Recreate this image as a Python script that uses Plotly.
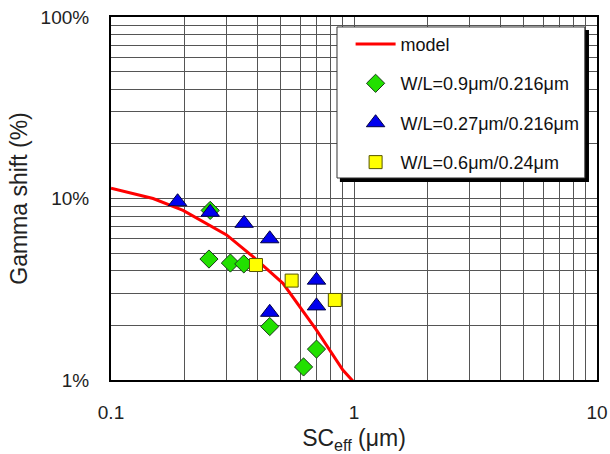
import plotly.graph_objects as go

# model curve
model_x = [0.1, 0.149, 0.198, 0.299, 0.384, 0.510, 0.700, 0.900, 1.053]
model_y = [11.4, 10.0, 8.6, 6.3, 4.78, 3.41, 1.89, 1.135, 0.90]

# W/L=0.9um/0.216um (diamonds)
d_x = [0.256, 0.253, 0.310, 0.352, 0.450, 0.701, 0.620]
d_y = [8.6, 4.64, 4.41, 4.36, 1.97, 1.48, 1.18]

# W/L=0.27um/0.216um (triangles)
t_x = [0.188, 0.256, 0.353, 0.450, 0.450, 0.701, 0.701]
t_y = [9.6, 8.4, 7.3, 6.0, 2.36, 3.55, 2.56]

# W/L=0.6um/0.24um (squares)
s_x = [0.395, 0.554, 0.834]
s_y = [4.30, 3.53, 2.76]

x_tick_vals = [0.1, 1, 10]
x_tick_text = ["0.1", "1", "10"]
y_tick_vals = [1, 10, 100]
y_tick_text = ["1%", "10%", "100%"]

FONT = "Arial, Liberation Sans, sans-serif"

# gridlines at every 1..9 multiple
xgrid = [m * 10.0 ** e for e in (-1, 0) for m in range(1, 10)] + [10]
ygrid = [m * 10.0 ** e for e in (0, 1) for m in range(1, 10)] + [100]
xtext = [x_tick_text[x_tick_vals.index(v)] if v in x_tick_vals else " " for v in xgrid]
ytext = [y_tick_text[y_tick_vals.index(v)] if v in y_tick_vals else " " for v in ygrid]

fig = go.Figure()
fig.add_trace(go.Scatter(x=model_x, y=model_y, mode="lines", name="model",
                         line=dict(color="#ff0000", width=3), legendgroup="a"))
fig.add_trace(go.Scatter(x=d_x, y=d_y, mode="markers", name="W/L=0.9μm/0.216μm",
                         marker=dict(symbol="diamond", size=14, color="#22e000",
                                     line=dict(color="#1a3a1a", width=1)), legendgroup="b"))
fig.add_trace(go.Scatter(x=t_x, y=t_y, mode="markers", name="W/L=0.27μm/0.216μm",
                         marker=dict(symbol="triangle-up", size=16, color="#0000ee",
                                     line=dict(color="#000044", width=1)), legendgroup="c"))
fig.add_trace(go.Scatter(x=s_x, y=s_y, mode="markers", name="W/L=0.6μm/0.24μm",
                         marker=dict(symbol="square", size=13, color="#ffff00",
                                     line=dict(color="#555500", width=1)), legendgroup="d"))

# legend box with shadow
fig.add_shape(type="rect", xref="paper", yref="paper",
              x0=0.471, x1=0.9835, y0=0.5455, y1=0.964,
              fillcolor="black", line=dict(width=0), layer="above")
fig.add_shape(type="rect", xref="paper", yref="paper",
              x0=0.465, x1=0.975, y0=0.5565, y1=0.9725,
              fillcolor="white", line=dict(color="#333", width=1), layer="above")

fig.update_layout(
    width=610, height=454,
    margin=dict(l=111, r=13, t=17, b=74),
    paper_bgcolor="white", plot_bgcolor="white",
    font=dict(family=FONT, size=19, color="#222"),
    showlegend=True,
    legend=dict(x=0.493, y=0.976, xanchor="left", yanchor="top",
                bgcolor="rgba(0,0,0,0)", borderwidth=0,
                font=dict(size=18, color="#111"), traceorder="grouped", tracegroupgap=13,
                itemwidth=40),
    xaxis=dict(type="log", range=[-1, 1], tickvals=xgrid, ticktext=xtext,
               showgrid=True, gridcolor="#555", gridwidth=1,
               showline=True, linecolor="black", linewidth=2, mirror=True,
               ticks="", ticklabelstandoff=14, zeroline=False, automargin=False,
               tickangle=0,
               title=dict(text="SC<sub>eff</sub> (μm)", standoff=13)),
    yaxis=dict(type="log", range=[0, 2], tickvals=ygrid, ticktext=ytext,
               showgrid=True, gridcolor="#555", gridwidth=1,
               showline=True, linecolor="black", linewidth=2, mirror=True,
               ticks="", ticklabelstandoff=16, zeroline=False, automargin=False,
               title=dict(text="Gamma shift (%)", standoff=7)),
)

fig.write_html("out.html", config={"displayModeBar": False},
               post_script="document.body.style.margin='0';document.body.style.overflow='hidden';")
